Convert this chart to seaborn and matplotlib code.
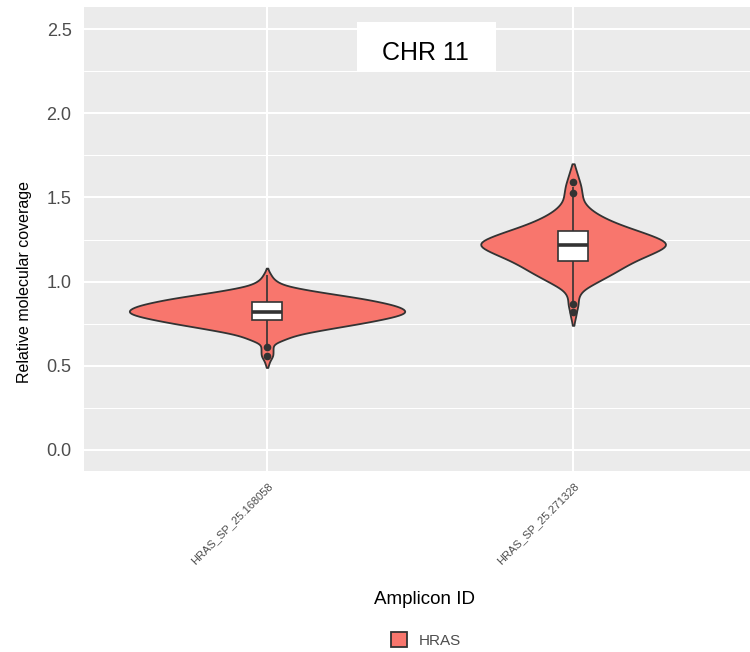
import numpy as np
import pandas as pd
import seaborn as sns
import matplotlib
matplotlib.use("Agg")
import matplotlib.pyplot as plt
from matplotlib.patches import Rectangle
from matplotlib.ticker import MultipleLocator

# ---------------- data ----------------
amplicons = ["HRAS_SP_25.168058", "HRAS_SP_25.271328"]
gene = "HRAS"

# relative molecular coverage values and how often they occur (histogram)
amp1_values = [1.08, 1.07, 1.06, 1.05, 1.04, 1.03, 1.02, 1.01, 1.00, 0.99,
               0.98, 0.97, 0.96, 0.95, 0.94, 0.93, 0.92, 0.91, 0.90, 0.89,
               0.88, 0.87, 0.86, 0.85, 0.84, 0.83, 0.82, 0.81, 0.80, 0.79,
               0.78, 0.77, 0.76, 0.75, 0.74, 0.73, 0.72, 0.71, 0.70, 0.69,
               0.68, 0.67, 0.66, 0.65, 0.64, 0.63, 0.62, 0.61, 0.60, 0.59,
               0.58, 0.57, 0.56, 0.55, 0.54, 0.53, 0.52, 0.51, 0.50, 0.49]
amp1_counts = [1, 1, 2, 3, 4, 5, 6, 8, 10, 13,
               17, 23, 32, 41, 51, 62, 73, 84, 95, 104,
               112, 120, 127, 132, 136, 138, 139, 137, 132, 126,
               118, 110, 101, 92, 82, 72, 62, 53, 43, 35,
               28, 23, 19, 15, 10, 7, 6, 6, 6, 6,
               6, 6, 6, 5, 4, 3, 2, 2, 1, 1]

amp2_values = [1.70, 1.68, 1.66, 1.64, 1.62, 1.60, 1.58, 1.56, 1.54, 1.52,
               1.50, 1.48, 1.46, 1.44, 1.42, 1.40, 1.38, 1.36, 1.34, 1.32,
               1.30, 1.28, 1.26, 1.24, 1.22, 1.20, 1.18, 1.16, 1.14, 1.12,
               1.10, 1.08, 1.06, 1.04, 1.02, 1.00, 0.98, 0.96, 0.94, 0.92,
               0.90, 0.88, 0.86, 0.84, 0.82, 0.80, 0.78, 0.76, 0.74]
amp2_counts = [1, 2, 3, 4, 5, 6, 7, 8, 8, 9,
               9, 10, 12, 15, 19, 24, 30, 37, 45, 54,
               64, 73, 82, 89, 92, 88, 81, 74, 66, 59,
               53, 47, 42, 36, 30, 24, 18, 12, 8, 6,
               5, 5, 5, 4, 3, 3, 2, 1, 1]

amp1_outliers = [0.56, 0.61]
amp2_outliers = [0.82, 0.865, 1.525, 1.59]

y_ticks = [0.0, 0.5, 1.0, 1.5, 2.0, 2.5]
annotation = "CHR 11"
x_title = "Amplicon ID"
y_title = "Relative molecular coverage"

# ---------------- tables ----------------
cov1 = np.repeat(amp1_values, amp1_counts)
cov2 = np.repeat(amp2_values, amp2_counts)
df = pd.DataFrame({
    "Amplicon": [amplicons[0]] * len(cov1) + [amplicons[1]] * len(cov2),
    "coverage": np.concatenate([cov1, cov2]),
    "Gene": gene,
})
out_df = pd.DataFrame({
    "Amplicon": [amplicons[0]] * len(amp1_outliers) + [amplicons[1]] * len(amp2_outliers),
    "coverage": amp1_outliers + amp2_outliers,
})

# ---------------- style ----------------
sns.set_theme(style="darkgrid", rc={
    "axes.facecolor": "#EBEBEB",
    "figure.facecolor": "white",
    "grid.color": "white",
})
plt.rcParams["font.family"] = ["Liberation Sans", "DejaVu Sans"]

fig = plt.figure(figsize=(7.5, 6.52), dpi=100)
ax = fig.add_axes([84 / 750, 1 - 471 / 652, 666 / 750, 464 / 652])

sns.violinplot(data=df, x="Amplicon", y="coverage", hue="Gene", order=amplicons,
               palette={gene: "#F8766D"}, saturation=1, inner=None, cut=0,
               density_norm="area", width=0.9, bw_method=0.14,
               linecolor="#333333", linewidth=1.3, ax=ax, legend=True)

sns.boxplot(data=df, x="Amplicon", y="coverage", order=amplicons, width=0.1,
            color="white", saturation=1, linecolor="#333333", linewidth=1.2,
            showfliers=False, showcaps=False,
            medianprops={"linewidth": 2.6}, ax=ax)

sns.stripplot(data=out_df, x="Amplicon", y="coverage", order=amplicons,
              jitter=False, color="#333333", size=5.5, linewidth=0, ax=ax)

# legend at bottom
leg = ax.get_legend()
handles = leg.legend_handles
labels = [t.get_text() for t in leg.get_texts()]
leg.remove()
fig.legend(handles, labels, loc="center", bbox_to_anchor=(426 / 750, 1 - 640 / 652),
           frameon=False, fontsize=11, handlelength=1.05, handleheight=1.05,
           handletextpad=0.8, labelcolor="#4D4D4D")

# axes, grid, ticks
ax.set_xlim(-0.598, 1.578)
ax.set_ylim(-0.125, 2.631)
ax.set_yticks(y_ticks)
ax.set_yticklabels([f"{t:.1f}" for t in y_ticks])
ax.yaxis.set_minor_locator(MultipleLocator(0.25))
ax.set_axisbelow(True)
ax.grid(which="major", color="white", linewidth=1.5)
ax.grid(which="minor", axis="y", color="white", linewidth=0.75)
ax.grid(which="major", axis="x", color="white", linewidth=1.5)
for s in ax.spines.values():
    s.set_visible(False)
ax.tick_params(axis="both", which="major", length=5, width=1.1, color="#333333",
               labelcolor="#4D4D4D")
ax.tick_params(axis="y", which="major", labelsize=13, pad=4)
ax.tick_params(axis="y", which="minor", length=0)
ax.set_xticks([0, 1])
ax.set_xticklabels(amplicons, rotation=45, ha="right", rotation_mode="anchor",
                   fontsize=8)
ax.tick_params(axis="x", which="major", pad=2)

ax.set_xlabel(x_title, fontsize=13.5, color="black")
ax.xaxis.set_label_coords((425 - 84) / 666, (471 - 591) / 464)
ax.set_ylabel(y_title, fontsize=11.5, color="black")
ax.yaxis.set_label_coords((32 - 84) / 666, (471 - 282) / 464)

# "CHR 11" label
ax.add_patch(Rectangle((0.294, 2.251), 0.454, 0.291, facecolor="white",
                       edgecolor="none", zorder=5))
ax.text(0.516, 2.316, annotation, ha="center", va="baseline", fontsize=18,
        color="black", zorder=6)

fig.savefig("out.png", dpi=100)
